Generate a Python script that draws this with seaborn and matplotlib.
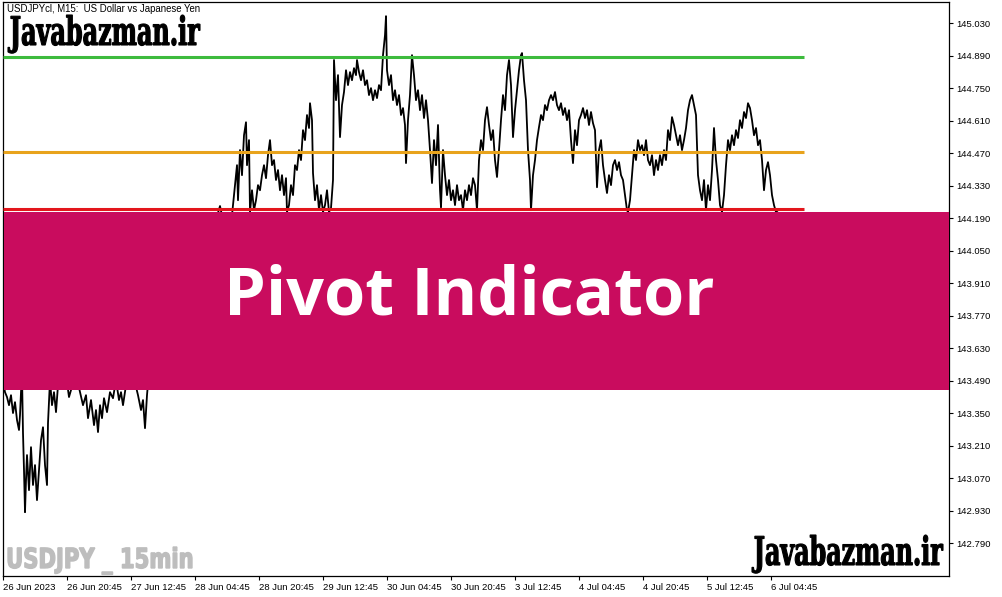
import numpy as np
import pandas as pd
import matplotlib
matplotlib.use('Agg')
import matplotlib.pyplot as plt
import seaborn as sns
from matplotlib.patches import Rectangle, PathPatch
from matplotlib.textpath import TextPath
from matplotlib.font_manager import FontProperties
from matplotlib.transforms import Affine2D

# Данные: USDJPY M15, close (индекс бара и цена)
bar_idx = [0, 2, 4, 6, 8, 10, 12, 14, 16, 17, 18, 19, 20, 21, 22, 23, 24, 26, 28, 30,
           32, 34, 36, 38, 40, 42, 44, 45, 47, 49, 51, 53, 55, 59, 63, 66, 68, 72, 77, 80,
           83, 85, 88, 91, 93, 95, 97, 99, 101, 104, 107, 110, 113, 116, 118, 120, 123, 129, 135, 138,
           140, 142, 144, 147, 157, 167, 177, 187, 197, 207, 217, 221, 229, 232, 234, 235, 237, 239, 241, 243,
           244, 246, 247, 249, 251, 253, 255, 257, 259, 261, 263, 265, 267, 269, 271, 273, 275, 277, 279, 281,
           283, 284, 286, 288, 290, 292, 294, 296, 298, 300, 302, 304, 306, 307, 309, 310, 312, 314, 316, 318,
           320, 322, 324, 326, 328, 330, 331, 333, 335, 337, 339, 341, 343, 345, 347, 349, 351, 353, 354, 356,
           358, 360, 362, 364, 366, 368, 370, 372, 374, 376, 378, 380, 382, 383, 384, 386, 388, 390, 392, 394,
           396, 398, 400, 402, 403, 405, 407, 409, 411, 413, 415, 417, 419, 421, 423, 425, 427, 429, 431, 433,
           435, 437, 438, 440, 442, 444, 446, 448, 450, 452, 454, 456, 458, 460, 462, 464, 466, 468, 470, 472,
           474, 476, 478, 480, 482, 484, 486, 488, 490, 492, 494, 496, 498, 500, 502, 504, 506, 508, 510, 512,
           514, 516, 518, 519, 521, 523, 525, 527, 528, 530, 532, 534, 536, 538, 540, 542, 544, 546, 548, 550,
           552, 554, 556, 558, 560, 562, 564, 566, 568, 570, 572, 574, 576, 578, 580, 582, 584, 586, 588, 590,
           592, 594, 596, 598, 600, 602, 604, 606, 608, 610, 612, 614, 616, 618, 620, 622, 624, 625, 627, 629,
           631, 633, 635, 637, 639, 641, 643, 645, 647, 649, 651, 653, 655, 657, 659, 661, 663, 665, 667, 669,
           671, 673, 675, 677, 679, 681, 683, 685, 687, 689, 691, 693, 695, 697, 699, 701, 703, 705, 707, 709,
           711, 713, 715, 717, 719, 721, 723, 725, 727, 729, 731, 733, 735, 737, 739, 741, 743, 745, 747, 749,
           751, 753, 755, 757, 759, 761, 763, 765, 767, 769, 771, 773, 775]
close = [143.493, 143.441, 143.420, 143.385, 143.428, 143.351, 143.398, 143.321, 143.278, 143.342,
         143.441, 143.515, 143.265, 143.105, 142.924, 143.062, 143.170, 143.019, 143.204, 143.041,
         143.127, 142.976, 143.105, 143.234, 143.290, 143.127, 143.041, 143.308, 143.493, 143.385,
         143.441, 143.355, 143.471, 143.579, 143.515, 143.420, 143.450, 143.536, 143.441, 143.385,
         143.428, 143.329, 143.407, 143.299, 143.364, 143.269, 143.385, 143.329, 143.415, 143.355,
         143.441, 143.415, 143.493, 143.407, 143.441, 143.385, 143.471, 143.536, 143.428, 143.364,
         143.407, 143.286, 143.428, 143.579, 143.751, 143.881, 143.838, 144.010, 143.924, 144.096,
         144.243, 144.161, 144.204, 144.333, 144.419, 144.268, 144.484, 144.376, 144.548, 144.604,
         144.419, 144.527, 144.217, 144.311, 144.225, 144.268, 144.333, 144.311, 144.376, 144.419,
         144.363, 144.462, 144.527, 144.419, 144.441, 144.355, 144.398, 144.311, 144.376, 144.290,
         144.363, 144.217, 144.247, 144.333, 144.290, 144.419, 144.398, 144.484, 144.441, 144.570,
         144.527, 144.635, 144.579, 144.686, 144.613, 144.385, 144.268, 144.333, 144.225, 144.290,
         144.217, 144.247, 144.311, 144.217, 144.234, 144.355, 144.872, 144.699, 144.807, 144.540,
         144.678, 144.734, 144.828, 144.764, 144.820, 144.785, 144.837, 144.807, 144.872, 144.820,
         144.785, 144.828, 144.764, 144.785, 144.721, 144.751, 144.699, 144.742, 144.708, 144.764,
         144.742, 144.893, 144.979, 145.061, 144.828, 144.764, 144.807, 144.699, 144.742, 144.678,
         144.721, 144.635, 144.665, 144.592, 144.428, 144.613, 144.721, 144.893, 144.807, 144.699,
         144.742, 144.656, 144.721, 144.622, 144.699, 144.613, 144.484, 144.342, 144.527, 144.419,
         144.592, 144.311, 144.238, 144.484, 144.376, 144.290, 144.355, 144.268, 144.311, 144.247,
         144.333, 144.268, 144.290, 144.225, 144.311, 144.268, 144.333, 144.290, 144.363, 144.333,
         144.225, 144.441, 144.527, 144.484, 144.613, 144.669, 144.592, 144.527, 144.570, 144.441,
         144.368, 144.484, 144.613, 144.721, 144.656, 144.807, 144.872, 144.764, 144.540, 144.656,
         144.742, 144.828, 144.893, 144.902, 144.785, 144.699, 144.484, 144.355, 144.225, 144.376,
         144.441, 144.527, 144.583, 144.635, 144.613, 144.678, 144.656, 144.699, 144.721, 144.699,
         144.734, 144.678, 144.656, 144.686, 144.635, 144.665, 144.613, 144.656, 144.527, 144.428,
         144.570, 144.505, 144.613, 144.635, 144.665, 144.622, 144.656, 144.592, 144.648, 144.600,
         144.570, 144.324, 144.484, 144.527, 144.419, 144.355, 144.299, 144.376, 144.333, 144.419,
         144.441, 144.398, 144.432, 144.376, 144.355, 144.290, 144.225, 144.217, 144.268, 144.376,
         144.484, 144.441, 144.527, 144.484, 144.505, 144.462, 144.527, 144.441, 144.419, 144.462,
         144.376, 144.441, 144.398, 144.462, 144.419, 144.484, 144.441, 144.570, 144.527, 144.626,
         144.592, 144.548, 144.505, 144.548, 144.484, 144.527, 144.579, 144.656, 144.699, 144.721,
         144.678, 144.635, 144.376, 144.311, 144.268, 144.355, 144.225, 144.333, 144.268, 144.398,
         144.579, 144.441, 144.355, 144.247, 144.217, 144.290, 144.419, 144.527, 144.484, 144.548,
         144.505, 144.570, 144.536, 144.613, 144.579, 144.648, 144.622, 144.686, 144.665, 144.613,
         144.548, 144.579, 144.505, 144.527, 144.441, 144.311, 144.398, 144.432, 144.376, 144.290,
         144.247, 144.217, 144.225]

# Пивот-уровни
pivot_levels = [144.886, 144.476, 144.229]
pivot_colors = ['#3dbb3d', '#e8a31c', '#e3161c']
pivot_end_bar = 801

# Оси
y_ticks = [145.030, 144.890, 144.750, 144.610, 144.470, 144.330, 144.190, 144.050, 143.910,
           143.770, 143.630, 143.490, 143.350, 143.210, 143.070, 142.930, 142.790]
x_tick_bars = [0, 64, 128, 192, 256, 320, 384, 448, 512, 576, 640, 704, 768]
x_tick_labels = ['26 Jun 2023', '26 Jun 20:45', '27 Jun 12:45', '28 Jun 04:45', '28 Jun 20:45',
                 '29 Jun 12:45', '30 Jun 04:45', '30 Jun 20:45', '3 Jul 12:45', '4 Jul 04:45',
                 '4 Jul 20:45', '5 Jul 12:45', '6 Jul 04:45']

df = pd.DataFrame({'bar': bar_idx, 'close': close})

sns.set_style('white')
plt.rcParams['font.family'] = ['Liberation Sans', 'DejaVu Sans']

W, H = 1003, 597
fig = plt.figure(figsize=(W / 100, H / 100), dpi=100)
ax = fig.add_axes([3 / W, 21 / H, 946 / W, 574 / H])

sns.lineplot(data=df, x='bar', y='close', color='black', lw=1.3, ax=ax)
for lvl, col in zip(pivot_levels, pivot_colors):
    ax.hlines(lvl, 0, pivot_end_bar, color=col, lw=2.2, zorder=3)

ax.set_xlim(0, 946)
ax.set_ylim(142.649, 145.122)
ax.set_xlabel('')
ax.set_ylabel('')

ax.yaxis.tick_right()
ax.set_yticks(y_ticks)
ax.set_yticklabels([f'{v:.3f}' for v in y_ticks])
ax.set_xticks(x_tick_bars)
ax.set_xticklabels(x_tick_labels, ha='left')
ax.tick_params(axis='both', direction='out', length=3, width=0.8, labelsize=6.8,
               color='black', labelcolor='black', pad=2)
ax.tick_params(axis='y', right=True, left=False)
ax.tick_params(axis='x', bottom=True)
for s in ax.spines.values():
    s.set_color('black')
    s.set_linewidth(0.9)

# Заголовок графика
fig.text(7 / W, 1 - 9 / H, 'USDJPYcl, M15:  US Dollar vs Japanese Yen', fontsize=6.9,
         va='center', ha='left', color='black')


def fit_text(s, box, color, prop, stroke=0.0):
    # текст, сжатый по ширине до прямоугольника (x0, y_top, x1, y_base) в пикселях
    x0, yt, x1, yb = box
    tp = TextPath((0, 0), s, size=10, prop=prop)
    bb = tp.get_extents()
    sx = (x1 - x0) / bb.width
    sy = (yb - yt) / bb.y1
    tr = (Affine2D().translate(-bb.x0, 0).scale(sx, sy)
          .translate(x0, H - yb).scale(1 / W, 1 / H) + fig.transFigure)
    fig.add_artist(PathPatch(tp, transform=tr, facecolor=color, edgecolor=color,
                             lw=stroke, zorder=4))


serif_bold = FontProperties(family='DejaVu Serif', weight='bold')
sans_bold = FontProperties(family='DejaVu Sans', weight='bold')

# Водяные знаки
fit_text('Javabazman.ir', (8, 15, 200, 45), 'black', serif_bold, stroke=0.8)
fit_text('Javabazman.ir', (752, 535, 943, 565), 'black', serif_bold, stroke=0.8)
fit_text('USDJPY _ 15min', (8, 547, 192, 568), '#bdbdbd', sans_bold, stroke=1.0)

# Баннер
fig.add_artist(Rectangle((4 / W, 1 - 389.5 / H), 945 / W, 177.5 / H, transform=fig.transFigure,
                         facecolor='#c90c5e', edgecolor='none', zorder=5))
fig.text(469 / W, 1 - 297 / H, 'Pivot Indicator', fontsize=48, fontweight='bold',
         family=['Open Sans', 'DejaVu Sans'], va='center', ha='center', color='white', zorder=6)

fig.savefig('out.png', dpi=100)
